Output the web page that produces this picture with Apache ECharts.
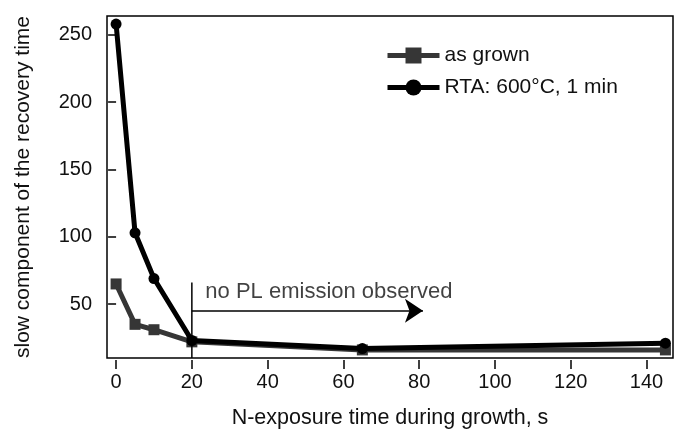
<!DOCTYPE html>
<html><head><meta charset="utf-8">
<script src="https://cdn.jsdelivr.net/npm/echarts@6/dist/echarts.min.js"></script>
<style>html,body{margin:0;padding:0;background:#fff}#c{width:681px;height:434px}</style>
</head><body><div id="c"></div>
<script>
var xTicks = [0, 20, 40, 60, 80, 100, 120, 140];
var yTicks = [50, 100, 150, 200, 250];
var asGrownX = [0, 5, 10, 20, 65, 145];
var asGrownY = [65, 35, 31, 22, 16, 16];
var rtaX = [0, 5, 10, 20, 65, 145];
var rtaY = [258, 103, 69, 23, 17, 21];
var markerLineX = [20, 20];
var markerLineY = [66, 10];
var arrowX = [20, 81];
var arrowY = [45, 45];
var noteX = [22.5];
var noteY = [59];
var noteText = 'no PL emission observed';
var seriesNames = ['as grown', 'RTA: 600°C, 1 min'];

function pairs(xs, ys) { return xs.map(function (x, i) { return [x, ys[i]]; }); }

var FONT = 'Liberation Sans, Arial, sans-serif';
var chart = echarts.init(document.getElementById('c'), null, {renderer: 'canvas'});
chart.setOption({
  animation: false,
  backgroundColor: '#fff',
  grid: {left: 107, right: 8, top: 16, bottom: 69, show: true, borderColor: '#000', borderWidth: 1.5, backgroundColor: 'transparent'},
  legend: {
    orient: 'vertical', left: 380, top: 40, itemWidth: 52, itemHeight: 20, itemGap: 11,
    lineStyle: {width: 5},
    textStyle: {fontFamily: FONT, fontSize: 21, color: '#111'},
    data: seriesNames
  },
  xAxis: {
    type: 'value', min: -2.4, max: 147, offset: 2,
    name: 'N-exposure time during growth, s', nameLocation: 'middle', nameGap: 47,
    nameTextStyle: {fontFamily: FONT, fontSize: 21.5, color: '#111'},
    axisLine: {show: false}, splitLine: {show: false},
    axisTick: {show: true, length: 9, lineStyle: {color: '#000', width: 1.5}, customValues: xTicks},
    axisLabel: {fontFamily: FONT, fontSize: 20, color: '#111', margin: 12, customValues: xTicks}
  },
  yAxis: {
    type: 'value', min: 10, max: 264, offset: 2,
    name: 'slow component of the recovery time', nameLocation: 'middle', nameGap: 71,
    nameTextStyle: {fontFamily: FONT, fontSize: 21, color: '#111'},
    axisLine: {show: false}, splitLine: {show: false},
    axisTick: {show: true, length: 8, lineStyle: {color: '#000', width: 1.5}, customValues: yTicks},
    axisLabel: {fontFamily: FONT, fontSize: 20, color: '#111', margin: 13, customValues: yTicks}
  },
  series: [
    {
      name: seriesNames[0], type: 'line', data: pairs(asGrownX, asGrownY),
      symbol: 'rect', symbolSize: 11, color: '#363636',
      lineStyle: {width: 5, color: '#363636'}, itemStyle: {color: '#363636'}, z: 3
    },
    {
      name: seriesNames[1], type: 'line', data: pairs(rtaX, rtaY),
      symbol: 'circle', symbolSize: 11, color: '#000',
      lineStyle: {width: 5, color: '#000'}, itemStyle: {color: '#000'}, z: 4
    },
    {
      name: 'marker', type: 'line', data: pairs(markerLineX, markerLineY),
      symbol: 'none', lineStyle: {width: 1.5, color: '#000'}, silent: true, z: 5,
      markLine: {
        silent: true, symbol: ['none', 'arrow'], symbolSize: 18,
        lineStyle: {type: 'solid', width: 1.5, color: '#000'}, label: {show: false},
        data: [[{coord: [arrowX[0], arrowY[0]]}, {coord: [arrowX[1], arrowY[1]]}]]
      }
    },
    {
      name: 'note', type: 'scatter', data: pairs(noteX, noteY), symbolSize: 0, silent: true,
      label: {show: true, position: 'right', distance: 4, formatter: function () { return noteText; },
        fontFamily: FONT, fontSize: 22, color: '#111'}
    }
  ]
});
</script></body></html>
